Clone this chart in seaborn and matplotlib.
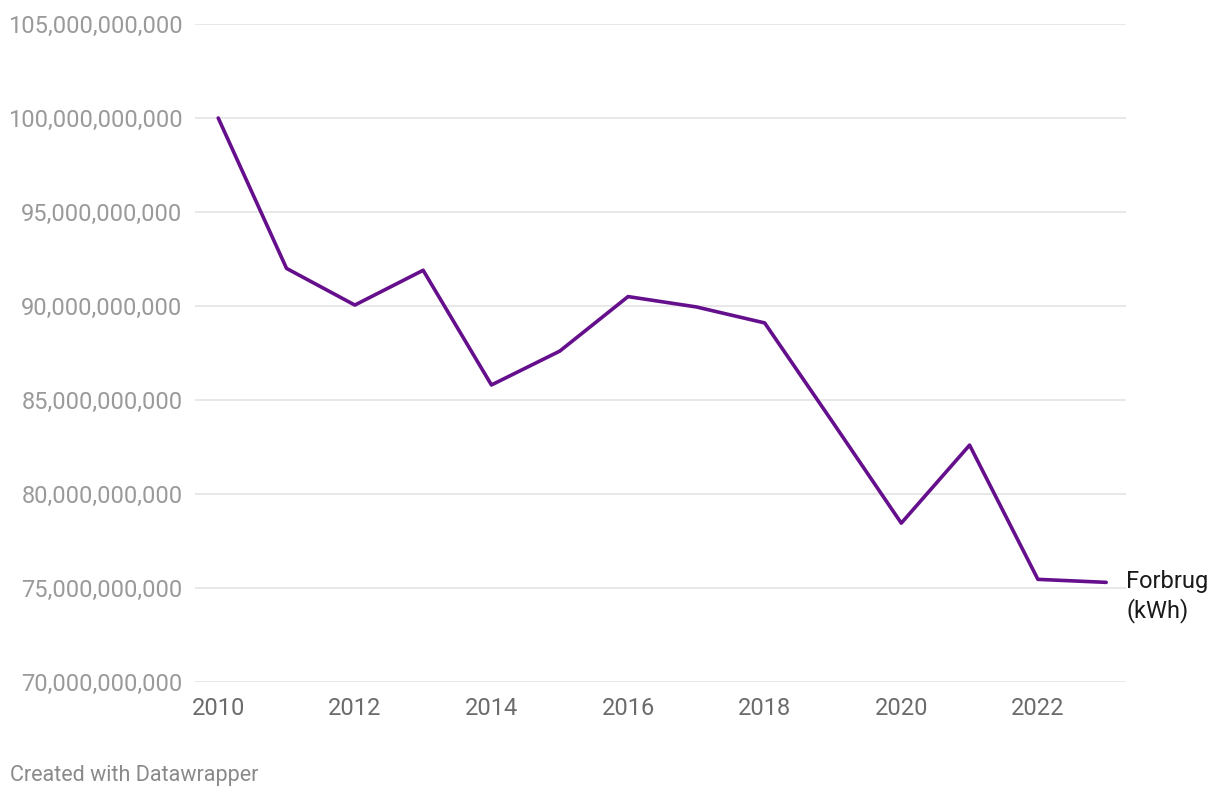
import pandas as pd
import seaborn as sns
import matplotlib.pyplot as plt
from matplotlib.ticker import FuncFormatter

# Data (kWh)
years = [2010, 2011, 2012, 2013, 2014, 2015, 2016, 2017, 2018, 2019, 2020, 2021, 2022, 2023]
forbrug = [100.0e9, 92.0e9, 90.05e9, 91.9e9, 85.8e9, 87.6e9, 90.5e9, 89.95e9, 89.1e9,
           83.8e9, 78.45e9, 82.6e9, 75.46e9, 75.3e9]
y_ticks = [70e9, 75e9, 80e9, 85e9, 90e9, 95e9, 100e9, 105e9]
x_ticks = [2010, 2012, 2014, 2016, 2018, 2020, 2022]
series_label = "Forbrug\n(kWh)"

df = pd.DataFrame({"year": years, "forbrug": forbrug})

sns.set_theme(style="white")
plt.rcParams["font.family"] = ["Roboto", "DejaVu Sans"]

fig = plt.figure(figsize=(12.2, 7.98), dpi=100)
ax = fig.add_axes([195 / 1220, 116 / 798, 931 / 1220, 658 / 798])

sns.lineplot(data=df, x="year", y="forbrug", color="#650f8c", linewidth=2.6, ax=ax)

ax.set_xlim(2009.66, 2023.29)
ax.set_ylim(70e9, 105e9)
ax.set_yticks(y_ticks)
ax.set_xticks(x_ticks)
ax.yaxis.set_major_formatter(FuncFormatter(lambda v, p: f"{v:,.0f}"))

ax.grid(axis="y", color="#e2e2e2", linewidth=1.1)
ax.grid(axis="x", visible=False)
for s in ax.spines.values():
    s.set_visible(False)

ax.tick_params(axis="y", length=0, pad=9, labelsize=17, labelcolor="#9a9a9a")
ax.tick_params(axis="x", length=0, pad=11, labelsize=17, labelcolor="#6b6b6b")
ax.set_xlabel("")
ax.set_ylabel("")

ax.annotate(series_label, xy=(years[-1], forbrug[-1]), xytext=(20, 12),
            textcoords="offset pixels", ha="left", va="top",
            fontsize=17, color="#1a1a1a", linespacing=1.25, annotation_clip=False)

fig.text(10 / 1220, 1 - 775 / 798, "Created with Datawrapper", ha="left", va="center",
         fontsize=15.5, color="#8a8a8a")

fig.savefig("out.png", dpi=100, facecolor="white")
